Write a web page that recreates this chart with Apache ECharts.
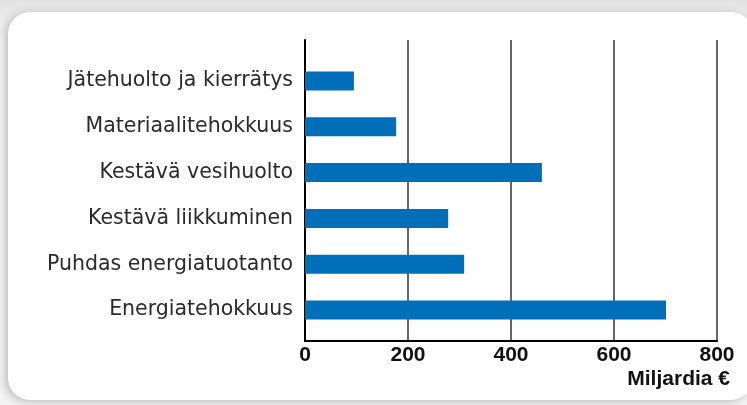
<!DOCTYPE html>
<html><head><meta charset="utf-8">
<script src="https://cdn.jsdelivr.net/npm/echarts@6/dist/echarts.min.js"></script>
<style>
html,body{margin:0;padding:0;width:747px;height:405px;overflow:hidden;background:#ececec;}
#bg{position:absolute;left:0;top:0;width:747px;height:405px;background:linear-gradient(#e2e2e2,#f4f4f4 40px,#f4f4f4);}
#card{position:absolute;left:8px;top:12px;width:745px;height:388px;background:#fff;border-radius:22px;box-shadow:-3px 2px 8px rgba(0,0,0,0.22);}
#chart{position:absolute;left:0;top:0;width:747px;height:405px;}
</style></head>
<body><div id="bg"></div><div id="card"></div><div id="chart"></div>
<script>
const categories = ['Jätehuolto ja kierrätys','Materiaalitehokkuus','Kestävä vesihuolto','Kestävä liikkuminen','Puhdas energiatuotanto','Energiatehokkuus'];
const values = [95, 177, 460, 278, 309, 701];
const xTicks = [0, 200, 400, 600, 800];
const unitLabel = 'Miljardia €';
const labelFont = 'DejaVu Sans';
const numFont = 'Liberation Sans';
const chart = echarts.init(document.getElementById('chart'), null, {renderer:'canvas'});
chart.setOption({
  animation:false,
  backgroundColor:'transparent',
  title:{text:unitLabel,right:17,top:369,padding:0,textStyle:{fontFamily:numFont,fontSize:21,fontWeight:'bold',color:'#111'}},
  grid:[
    {left:305,top:40,width:412,height:301,containLabel:false},
    {left:305,top:58,width:412,height:275,containLabel:false}
  ],
  xAxis:[
    {gridIndex:0,type:'value',min:xTicks[0],max:xTicks[xTicks.length-1],interval:200,
     axisLine:{show:true,lineStyle:{color:'#000',width:2}},axisTick:{show:false},
     splitLine:{show:true,lineStyle:{color:'#333',width:1.5}},
     axisLabel:{fontFamily:numFont,fontSize:21,fontWeight:'bold',color:'#111',margin:4}},
    {gridIndex:1,type:'value',min:xTicks[0],max:xTicks[xTicks.length-1],show:false}
  ],
  yAxis:[
    {gridIndex:0,type:'value',min:0,max:1,axisLine:{show:true,lineStyle:{color:'#000',width:2}},axisTick:{show:false},axisLabel:{show:false},splitLine:{show:false}},
    {gridIndex:1,type:'category',data:categories,inverse:true,axisLine:{show:false},axisTick:{show:false},
     axisLabel:{fontFamily:labelFont,fontSize:20.5,color:'#2a2a2a',margin:12}}
  ],
  series:[{type:'bar',xAxisIndex:1,yAxisIndex:1,data:values,barWidth:19,itemStyle:{color:'#006fba'}}]
});
</script></body></html>
